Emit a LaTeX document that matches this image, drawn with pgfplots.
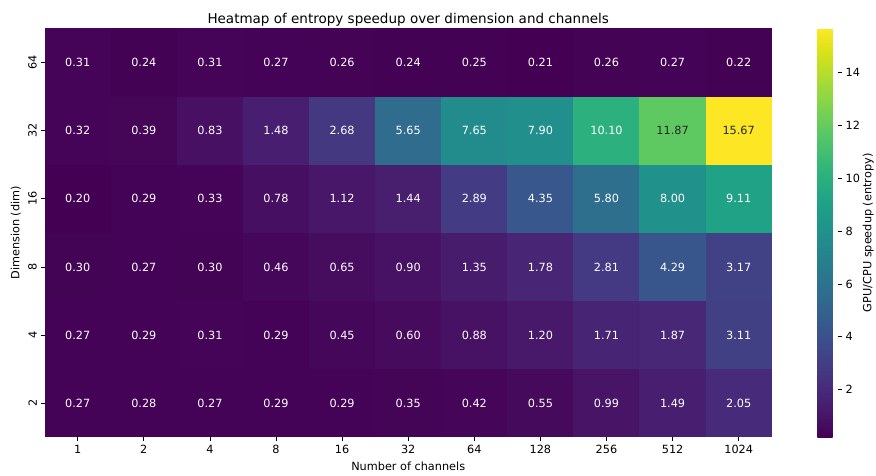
\documentclass[border=0pt]{standalone}
\usepackage{fontspec}
\setmainfont{DejaVu Sans}
\usepackage{pgfplots}
\usepackage{pgfplotstable}
\pgfplotsset{compat=1.18}
\pgfplotsset{/pgf/number format/assume math mode=true}

\pgfplotstableread{
x y z
0 0 0.27
1 0 0.28
2 0 0.27
3 0 0.29
4 0 0.29
5 0 0.35
6 0 0.42
7 0 0.55
8 0 0.99
9 0 1.49
10 0 2.05
0 1 0.27
1 1 0.29
2 1 0.31
3 1 0.29
4 1 0.45
5 1 0.60
6 1 0.88
7 1 1.20
8 1 1.71
9 1 1.87
10 1 3.11
0 2 0.30
1 2 0.27
2 2 0.30
3 2 0.46
4 2 0.65
5 2 0.90
6 2 1.35
7 2 1.78
8 2 2.81
9 2 4.29
10 2 3.17
0 3 0.20
1 3 0.29
2 3 0.33
3 3 0.78
4 3 1.12
5 3 1.44
6 3 2.89
7 3 4.35
8 3 5.80
9 3 8.00
10 3 9.11
0 4 0.32
1 4 0.39
2 4 0.83
3 4 1.48
4 4 2.68
5 4 5.65
6 4 7.65
7 4 7.90
8 4 10.10
9 4 11.87
10 4 15.67
0 5 0.31
1 5 0.24
2 5 0.31
3 5 0.27
4 5 0.26
5 5 0.24
6 5 0.25
7 5 0.21
8 5 0.26
9 5 0.27
10 5 0.22
}\heat

\newcommand{\fs}{\fontsize{10.6}{12.7}\selectfont}
% one heatmap cell: 683.4pt/11 by 384.5pt/6, with a hair of overlap
\pgfdeclareplotmark{cell}{%
  \pgfpathrectangle{\pgfqpoint{-31.2pt}{-32.1pt}}{\pgfqpoint{62.4pt}{64.2pt}}%
  \pgfusepathqfill}

\begin{document}
\begin{tikzpicture}
\path[use as bounding box] (-42.0pt,-35.4pt) rectangle (781.4pt,411.1pt);
\begin{axis}[
  scale only axis,
  width=683.4pt, height=384.5pt,
  at={(0,0)}, anchor=south west,
  xmin=-0.5, xmax=10.5, ymin=-0.5, ymax=5.5,
  axis line style={draw=none},
  xtick={0,...,10},
  xticklabels={1,2,4,8,16,32,64,128,256,512,1024},
  ytick={0,...,5},
  yticklabels={2,4,8,16,32,64},
  yticklabel style={rotate=90, anchor=south},
  xtick pos=bottom, ytick pos=left,
  tick align=outside,
  major tick length=3.8pt,
  tick style={black, line width=0.75pt},
  ticklabel style={font=\fs},
  colormap name=viridis,
  point meta min=0.20, point meta max=15.67,
  title={Heatmap of entropy speedup over dimension and channels},
  every axis title/.style={font=\fontsize{12.7}{15}\selectfont, at={(axis description cs:0.5,1)}, anchor=center, yshift=8.1pt},
  xlabel={Number of channels},
  every axis x label/.style={font=\fs, at={(axis description cs:0.5,0)}, anchor=center, yshift=-27pt},
  ylabel={Dimension (dim)},
  every axis y label/.style={font=\fs, at={(axis description cs:0,0.5)}, anchor=center, xshift=-27pt, rotate=90},
  colorbar,
  colorbar style={
    at={(parent axis.north east)}, anchor=north west, xshift=34.4pt,
    width=19.2pt,
    axis line style={draw=none},
    ytick={2,4,6,8,10,12,14},
    ytick pos=right, yticklabel pos=right,
    tick align=outside,
    major tick length=3.8pt,
    tick style={black, line width=0.75pt},
    ticklabel style={font=\fs},
    ylabel={GPU/CPU speedup (entropy)},
    every axis y label/.style={at={(axis description cs:1,0.5)}, anchor=center, xshift=28.5pt, rotate=90, font=\fs},
  },
]
\addplot[scatter, only marks, mark=cell, point meta=explicit,
  scatter/use mapped color={draw=none, fill=mapped color}]
  table[x=x, y=y, meta=z] {\heat};
\addplot[only marks, mark=none, point meta=explicit symbolic,
  skip coords between index={53}{55},
  nodes near coords,
  every node near coord/.style={anchor=center, text=white, font=\fs}]
  table[x=x, y=y, meta=z] {\heat};
\addplot[only marks, mark=none, point meta=explicit symbolic,
  skip coords between index={0}{53}, skip coords between index={55}{66},
  nodes near coords,
  every node near coord/.style={anchor=center, text=black!85, font=\fs}]
  table[x=x, y=y, meta=z] {\heat};
\end{axis}
\end{tikzpicture}
\end{document}
